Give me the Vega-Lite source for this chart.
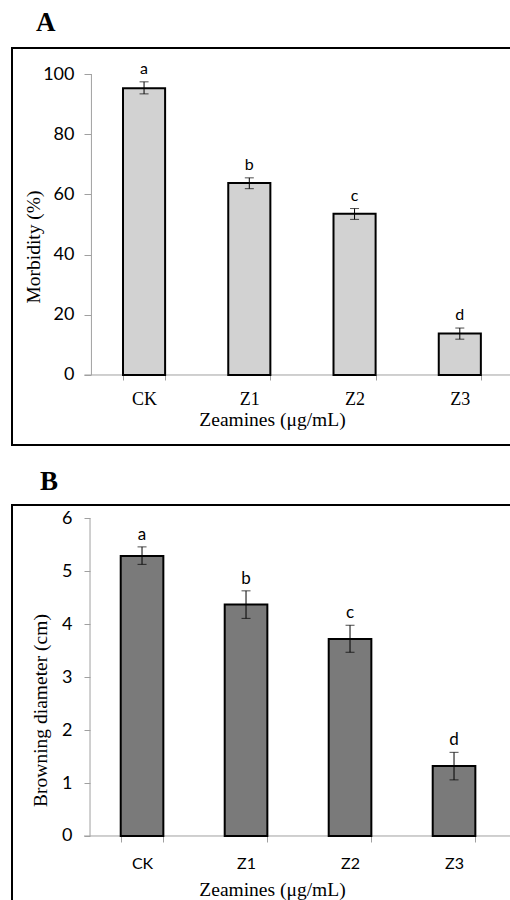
{
  "$schema": "https://vega.github.io/schema/vega-lite/v6.json",
  "background": "white",
  "padding": {"left": 11, "top": 8, "right": 0, "bottom": 0},
  "spacing": 21,
  "config": {
    "view": {"stroke": "black", "strokeWidth": 2},
    "axis": {"grid": false, "domain": false, "tickColor": "#a0a0a0", "labelColor": "black", "titleColor": "black", "titleFont": "Liberation Serif", "titleFontWeight": "normal", "titleFontSize": 19.5},
    "title": {"font": "Liberation Serif", "fontSize": 27, "fontWeight": "bold", "color": "black", "anchor": "start", "frame": "group", "baseline": "alphabetic"}
  },
  "vconcat": [
    {
      "title": {"text": "A", "dx": 24, "offset": 11},
      "width": 520,
      "height": 397,
      "data": {"values": [
        {"g": "CK", "mean": 95.3, "lo": 93.4, "hi": 97.4, "letter": "a"},
        {"g": "Z1", "mean": 63.8, "lo": 61.9, "hi": 65.5, "letter": "b"},
        {"g": "Z2", "mean": 53.6, "lo": 51.7, "hi": 55.3, "letter": "c"},
        {"g": "Z3", "mean": 13.8, "lo": 11.9, "hi": 15.6, "letter": "d"}
      ]},
      "encoding": {
        "x": {"field": "g", "type": "nominal", "sort": null,
          "scale": {"paddingInner": 0.6, "paddingOuter": 0.7703, "align": 0.6846},
          "axis": {"orient": "bottom", "offset": -70, "tickBand": "extent", "tickSize": 5, "labelAngle": 0, "labelFont": "Liberation Serif", "labelFontSize": 18, "labelPadding": 10, "title": "Zeamines (μg/mL)", "titlePadding": 2}}
      },
      "layer": [
        {
          "data": {"values": [{}]},
          "mark": {"type": "rule", "color": "#a0a0a0"},
          "encoding": {
            "x": {"datum": "CK", "type": "nominal", "bandPosition": -0.917},
            "x2": {"value": "width"},
            "y": {"datum": 0, "type": "quantitative", "title": "Morbidity (%)"}
          }
        },
        {
          "data": {"values": [{}]},
          "mark": {"type": "rule", "color": "#a0a0a0"},
          "encoding": {
            "x": {"datum": "CK", "type": "nominal", "bandPosition": -0.75},
            "y": {"datum": 0, "type": "quantitative", "title": "Morbidity (%)"},
            "y2": {"datum": 100}
          }
        },
        {
          "mark": {"type": "bar", "fill": "#d2d2d2", "stroke": "black", "strokeWidth": 2},
          "encoding": {
            "y": {"field": "mean", "type": "quantitative", "title": "Morbidity (%)",
              "scale": {"domain": [-23.26, 108.64], "nice": false, "zero": false},
              "axis": {"values": [0, 20, 40, 60, 80, 100], "offset": -79, "tickSize": 7, "labelFont": "Lato", "labelFontSize": 18, "labelPadding": 10, "titlePadding": -1}}
          }
        },
        {
          "mark": {"type": "errorbar", "ticks": {"size": 9, "color": "black"}, "rule": {"color": "black"}},
          "encoding": {
            "y": {"field": "lo", "type": "quantitative", "title": "Morbidity (%)"},
            "y2": {"field": "hi"}
          }
        },
        {
          "mark": {"type": "text", "font": "Lato", "fontSize": 16, "baseline": "alphabetic", "dy": -8, "color": "black"},
          "encoding": {
            "y": {"field": "hi", "type": "quantitative", "title": "Morbidity (%)"},
            "text": {"field": "letter"}
          }
        }
      ]
    },
    {
      "title": {"text": "B", "dx": 28, "offset": 9},
      "width": 520,
      "height": 410,
      "data": {"values": [
        {"g": "CK", "mean": 5.29, "lo": 5.13, "hi": 5.46, "letter": "a"},
        {"g": "Z1", "mean": 4.37, "lo": 4.11, "hi": 4.63, "letter": "b"},
        {"g": "Z2", "mean": 3.72, "lo": 3.47, "hi": 3.98, "letter": "c"},
        {"g": "Z3", "mean": 1.32, "lo": 1.06, "hi": 1.58, "letter": "d"}
      ]},
      "encoding": {
        "x": {"field": "g", "type": "nominal", "sort": null,
          "scale": {"paddingInner": 0.59, "paddingOuter": 0.795, "align": 0.6574},
          "axis": {"orient": "bottom", "offset": -79, "tickBand": "extent", "tickSize": 6, "labelAngle": 0, "labelFont": "Lato", "labelFontSize": 16, "labelPadding": 13, "title": "Zeamines (μg/mL)", "titlePadding": 9}}
      },
      "layer": [
        {
          "data": {"values": [{}]},
          "mark": {"type": "rule", "color": "#a0a0a0"},
          "encoding": {
            "x": {"datum": "CK", "type": "nominal", "bandPosition": -0.86},
            "x2": {"value": "width"},
            "y": {"datum": 0, "type": "quantitative", "title": "Browning diameter (cm)"}
          }
        },
        {
          "data": {"values": [{}]},
          "mark": {"type": "rule", "color": "#a0a0a0"},
          "encoding": {
            "x": {"datum": "CK", "type": "nominal", "bandPosition": -0.7195},
            "y": {"datum": 0, "type": "quantitative", "title": "Browning diameter (cm)"},
            "y2": {"datum": 6}
          }
        },
        {
          "mark": {"type": "bar", "fill": "#7a7a7a", "stroke": "black", "strokeWidth": 2},
          "encoding": {
            "y": {"field": "mean", "type": "quantitative", "title": "Browning diameter (cm)",
              "scale": {"domain": [-1.492, 6.251], "nice": false, "zero": false},
              "axis": {"values": [0, 1, 2, 3, 4, 5, 6], "format": "d", "offset": -78, "tickSize": 6, "labelFont": "Lato", "labelFontSize": 18, "labelPadding": 12, "titlePadding": 11}}
          }
        },
        {
          "mark": {"type": "errorbar", "ticks": {"size": 9, "color": "black"}, "rule": {"color": "black"}},
          "encoding": {
            "y": {"field": "lo", "type": "quantitative", "title": "Browning diameter (cm)"},
            "y2": {"field": "hi"}
          }
        },
        {
          "mark": {"type": "text", "font": "Lato", "fontSize": 17, "baseline": "alphabetic", "dy": -7, "color": "black"},
          "encoding": {
            "y": {"field": "hi", "type": "quantitative", "title": "Browning diameter (cm)"},
            "text": {"field": "letter"}
          }
        }
      ]
    }
  ]
}
